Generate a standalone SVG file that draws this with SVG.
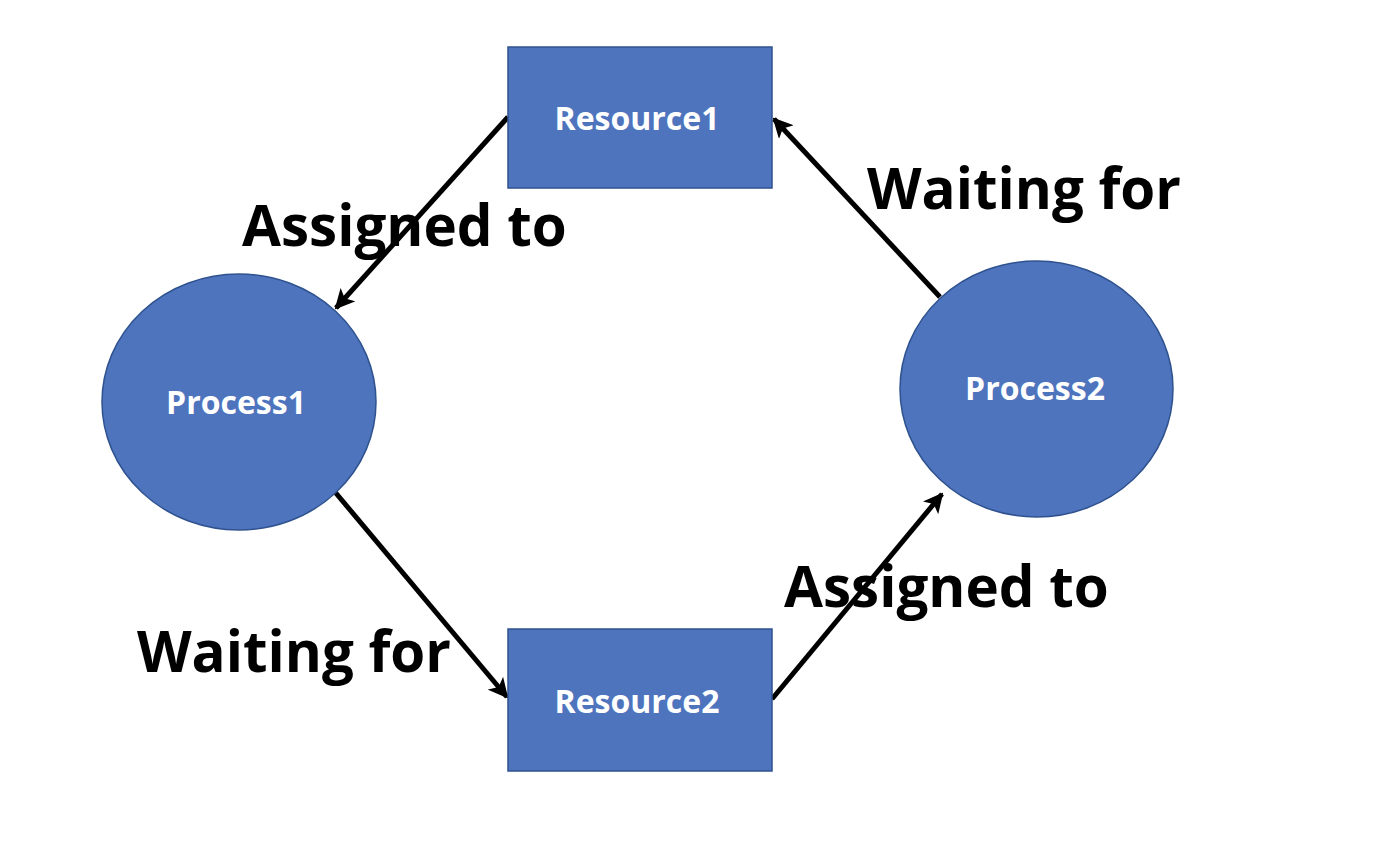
<svg xmlns="http://www.w3.org/2000/svg" width="1388" height="865" viewBox="0 0 1388 865">
<defs>
<style>
.node{fill:#4E74BE;stroke:#2F528F;stroke-width:1.5}
.nl{font-family:"Open Sans","Noto Sans",sans-serif;font-weight:bold;font-size:32px;fill:#fff;text-anchor:middle}
.el{font-family:"Open Sans","Noto Sans",sans-serif;font-weight:bold;font-size:56.5px;fill:#000}
.edge{stroke:#000;stroke-width:5;fill:none;marker-end:url(#arr)}
</style>
<marker id="arr" viewBox="0 0 10 10" refX="9" refY="5" markerWidth="4" markerHeight="4" orient="auto" markerUnits="strokeWidth">
<path d="M0,0 L10,5 L0,10 L2.5,5 Z" fill="#000"/>
</marker>
</defs>
<rect width="1388" height="865" fill="#fff"/>
<g id="connectors">
<line class="edge" x1="508" y1="117" x2="336" y2="308"/>
<line class="edge" x1="940" y1="297" x2="774" y2="119"/>
<line class="edge" x1="335" y1="492" x2="507" y2="697"/>
<line class="edge" x1="772" y1="699" x2="942" y2="494"/>
</g>
<g id="resource1"><rect class="node" x="508" y="47" width="264" height="141"/><text class="nl" x="637" y="130">Resource1</text></g>
<g id="resource2"><rect class="node" x="508" y="629" width="264" height="142"/><text class="nl" x="637" y="713">Resource2</text></g>
<g id="process1"><ellipse class="node" cx="239" cy="402" rx="137" ry="128"/><text class="nl" x="236" y="414">Process1</text></g>
<g id="process2"><ellipse class="node" cx="1036.5" cy="389" rx="136.5" ry="128"/><text class="nl" x="1035" y="400">Process2</text></g>
<g id="labels">
<text class="el" x="242" y="246">Assigned to</text>
<text class="el" x="867" y="209">Waiting for</text>
<text class="el" x="137" y="672">Waiting for</text>
<text class="el" x="784" y="607">Assigned to</text>
</g>
</svg>
